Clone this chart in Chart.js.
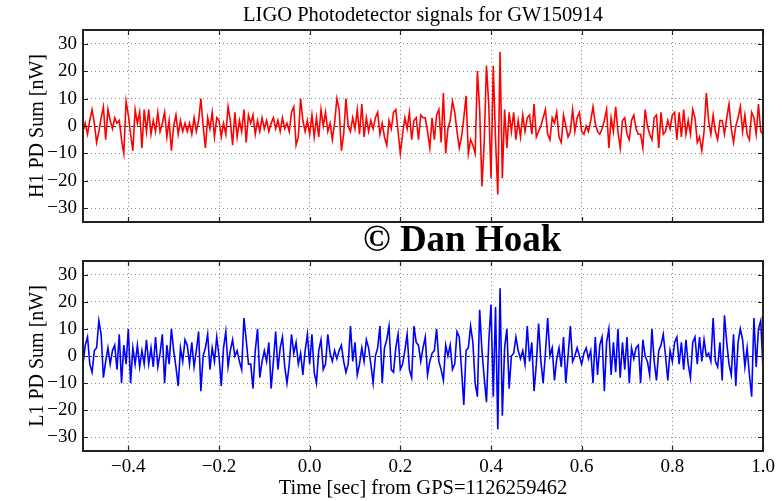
<!DOCTYPE html>
<html>
<head>
<meta charset="utf-8">
<script src="https://cdn.jsdelivr.net/npm/chart.js@4.4.0/dist/chart.umd.min.js"></script>
<style>
  html, body { margin: 0; padding: 0; background: #ffffff; }
  #wrap { position: relative; width: 782px; height: 501px; overflow: hidden; background: #fff; }
  canvas { position: absolute; left: 0; }
  #c1 { top: 0; }
  #c2 { top: 240px; }
  #title {
    position: absolute; left: 83px; width: 680px; top: 2px;
    text-align: center;
    font-family: 'Liberation Serif', 'DejaVu Serif', serif;
    font-size: 20.5px; line-height: 24px; color: #000; white-space: nowrap;
  }
  #credit {
    position: absolute; left: 363px; top: 220px;
    font-family: 'Liberation Serif', 'DejaVu Serif', serif;
    font-weight: bold; font-size: 37px; line-height: 37px;
    color: #000; white-space: nowrap;
  }
</style>
</head>
<body>
<div id="wrap">
  <canvas id="c1" width="782" height="240"></canvas>
  <canvas id="c2" width="782" height="261"></canvas>
  <div id="title"></div>
  <div id="credit">© Dan Hoak</div>
</div>
<script>
// ---- Data ----
const chartTitle = 'LIGO Photodetector signals for GW150914';
const xAxisTitle = 'Time [sec] from GPS=1126259462';
const h1Label = 'H1 PD Sum [nW]';
const l1Label = 'L1 PD Sum [nW]';

const xTickValues = [-0.4, -0.2, 0.0, 0.2, 0.4, 0.6, 0.8, 1.0];
const xTickLabels = ['\u22120.4', '\u22120.2', '0.0', '0.2', '0.4', '0.6', '0.8', '1.0'];
const yTickValues = [-30, -20, -10, 0, 10, 20, 30];
const yTickLabels = ['\u221230', '\u221220', '\u221210', '0', '10', '20', '30'];

// sample times: start and spacing of the recorded samples (seconds)
const tStart = -0.5;
const tStep = 0.005;

// H1 photodetector sum [nW]
const h1Values = [
  -2, 1, -3, 2, 6, 1, -6, -2, 3, 7,
  -5, 6, 2, -1, 3, 1, 2, -5, -10, 9,
  4, -3, -9, 6, 1, 5, -8, 6, -2, 6,
  -3, 2, -2, 5, -2, 1, 5, -4, 2, -9,
  0, 4, -3, 2, -2, 1, -2, 1, -3, 3,
  -2, 2, 10, 0, -8, 3, -1, 5, -4, 3,
  2, -4, 1, -3, 7, 2, -7, 5, -4, 2,
  -2, 6, -6, 4, 1, 4,
  -3, 2, -2, 3, -1, 2, -2, 1, 3, -1,
  2, -2, 3, -1, 1, -2, 5, 7, -7, -4,
  10, 2, -2, 2, -3, 4, -4, 3, -4, 6,
  0, 5, -2, 1, -5, 1, 10, 6, -9, -3,
  10, 0, -2, 3, -1, 6, -3, 8, -4, 3,
  -2, 2, -1, 3, 5, -3, 1, -4, -7, 2,
  -1, 5, 6, -2, -10, -3, 3, -1, 5, -5,
  2, 3, -5, 4, 3,
  3, -2, -8, 3, -5, 4, 6, -6, 12, -10,
  -1, 2, 9, 5, -2, -8, -4, 3, 11, -10,
  -5, -7, -10, 20, 6, -22, -6, 22, 8, -19,
  22, -5, -25, 27, -19, 6, -8, 5, -2, 5,
  -5, 2, -4, 4, -2, 3, 4, -3, 8, -4,
  -2, 0, 3, 6, -3, -5, 3, 1, 5, -4,
  -6, 4, 0, -4, -2, 6, -2, 3, 5, -2,
  -3, 0, -2, 2, 7,
  1, -2, -3, -1, 2, 6, -8, 3, -2, 7,
  -2, -8, 2, 3, -3, -5, 2, 4, -1, -3,
  -3, -8, 6, 0, -3, -5, 3, 4, -8, 5,
  -3, -2, 2, -1, 4, 5, -5, 5, -4, 6,
  -3, 2, -3, 6, 3, -6, -4, -9, -2, 12,
  2, -3, 4, -2, -5, 2, 2, -3, 3, 8,
  -1, -6, 0, 3, 7, -2, 4, -3, -5, 5,
  3, -3, 8, -2, -3
];

// L1 photodetector sum [nW]
const l1Values = [
  -3, 4, 7, -3, -6, 2, 3, 13, 8, -8,
  -2, 3, -3, 2, 4, -5, 8, -10, 4, -3,
  10, -10, 3, -3, 4, -4, 2, -3, 6, -3,
  3, -4, 7, -4, 1, 8, -10, 4, -3, 10,
  2, -4, -11, 3, -2, 6, 4, -3, 5, -4,
  2, 9, -13, 0, 3, 8, -5, 3, -2, 7,
  0, -11, 3, 9, -4, 2, 6, 0, 2, -2,
  -5, 14, 6, -3, -3, -12,
  2, 10, -8, -2, 2, -2, 5, -12, -2, 9,
  -5, 3, 7, -4, -10, -3, 8, 1, 5, -3,
  1, -7, 2, 8, -3, 8, -6, -10, 2, 6,
  -5, -3, 8, 1, -2, 2, -1, 2, 4, -2,
  -6, -3, 11, -2, 5, -7, -3, 3, -2, 6,
  3, -3, -10, 0, 3, 11, -10, 3, 6, 11,
  -5, -6, 3, 8, -5, -3, 2, 8, -5, -8,
  11, 5, 4, -2, 3,
  7, -7, -2, 1, 2, 10, -2, -5, -9, 4,
  0, 4, -5, -3, 9, 7, -5, -18, 2, 3,
  11, 5, -10, -15, 17, 2, -8, -17, 5, 19,
  -15, 18, -27, 25, -22, 3, 10, -12, 0, 1,
  7, 2, -1, 2, -3, 11, -2, 5, -13, -3,
  12, -2, -10, 1, 14, 0, 3, -9, -1, 3,
  -4, 7, -10, 0, 11, -2, 0, 3, 0, -3,
  1, 3, -1, 2, -10,
  7, -7, 4, 7, -13, 5, 10, -7, 5, -6,
  10, -8, 5, -5, 7, -10, 3, -1, 3, 4,
  -10, 6, 0, -2, -7, 10, -2, -9, 2, 4,
  8, 0, -9, 2, -2, 5, 7, -3, 5, -5,
  6, -3, -8, 5, 7, -3, 7, -2, 6, 0,
  1, -2, 14, -2, -4, 5, -9, 15, 5, -3,
  -7, 8, -11, 5, 10, 6, -4, 3, -7, -15,
  14, -4, 10, 13, -5
];

document.getElementById('title').textContent = chartTitle;

// ---- Chart setup ----
const SERIF = "'Liberation Serif', 'DejaVu Serif', 'Times New Roman', serif";
Chart.defaults.font.family = SERIF;
Chart.defaults.color = '#000';

function toPoints(values) {
  return values.map((v, i) => ({ x: tStart + i * tStep, y: v }));
}

function labelFor(values, labels, v) {
  for (let i = 0; i < values.length; i++) {
    if (Math.abs(values[i] - v) < 1e-6) return labels[i];
  }
  return '';
}

const framePlugin = {
  id: 'mplFrame',
  beforeDatasetsDraw(chart) {
    const { ctx, chartArea: a, scales: { y } } = chart;
    const y0 = Math.round(y.getPixelForValue(0)) + 0.5;
    ctx.save();
    ctx.strokeStyle = '#333';
    ctx.lineWidth = 1;
    ctx.setLineDash([3, 3]);
    ctx.beginPath();
    ctx.moveTo(a.left, y0);
    ctx.lineTo(a.right, y0);
    ctx.stroke();
    ctx.restore();
  },
  afterDatasetsDraw(chart) {
    const { ctx, chartArea: a, scales: { x, y } } = chart;
    ctx.save();
    ctx.setLineDash([]);
    ctx.strokeStyle = '#222';
    ctx.lineWidth = 1.2;
    ctx.beginPath();
    yTickValues.forEach(v => {
      const p = Math.round(y.getPixelForValue(v)) + 0.5;
      ctx.moveTo(a.left, p); ctx.lineTo(a.left + 5, p);
      ctx.moveTo(a.right, p); ctx.lineTo(a.right - 5, p);
    });
    xTickValues.forEach(v => {
      const p = Math.round(x.getPixelForValue(v)) + 0.5;
      ctx.moveTo(p, a.bottom); ctx.lineTo(p, a.bottom - 5);
      ctx.moveTo(p, a.top); ctx.lineTo(p, a.top + 5);
    });
    ctx.stroke();
    ctx.lineWidth = 2;
    ctx.strokeStyle = '#222';
    ctx.strokeRect(a.left, a.top, a.right - a.left, a.bottom - a.top);
    ctx.restore();
  }
};

function makeChart(canvasId, values, color, yTitle, isTop) {
  const gridOpts = { display: true, drawTicks: false, color: '#8a8a8a', lineWidth: 1 };
  return new Chart(document.getElementById(canvasId), {
    type: 'line',
    data: {
      datasets: [{
        data: toPoints(values),
        borderColor: color,
        borderWidth: 1.6,
        pointRadius: 0,
        tension: 0,
        fill: false
      }]
    },
    options: {
      responsive: false,
      animation: false,
      layout: { padding: isTop ? { left: 0, right: 19, top: 30, bottom: 18 } : { left: 0, right: 19, top: 21, bottom: 0 } },
      plugins: {
        legend: { display: false },
        tooltip: { enabled: false },
        title: { display: false }
      },
      scales: {
        x: {
          type: 'linear',
          min: -0.5,
          max: 1.0,
          afterBuildTicks: s => { s.ticks = xTickValues.map(v => ({ value: v })); },
          afterFit: s => { s.height = isTop ? 0 : 50; },
          grid: gridOpts,
          border: { display: false, dash: [1, 3] },
          ticks: {
            display: !isTop,
            font: { family: SERIF, size: 19 },
            color: '#000',
            padding: 5,
            maxRotation: 0,
            autoSkip: false,
            callback: v => labelFor(xTickValues, xTickLabels, v)
          },
          title: isTop ? { display: false } : {
            display: true,
            text: xAxisTitle,
            font: { family: SERIF, size: 20.5 },
            color: '#000',
            padding: { top: 0, bottom: 0 }
          }
        },
        y: {
          type: 'linear',
          min: -35,
          max: 35,
          afterBuildTicks: s => { s.ticks = yTickValues.map(v => ({ value: v })); },
          afterFit: s => { s.width = 83; },
          grid: gridOpts,
          border: { display: false, dash: [1, 3] },
          ticks: {
            font: { family: SERIF, size: 19 },
            color: '#000',
            padding: 6,
            autoSkip: false,
            callback: v => labelFor(yTickValues, yTickLabels, v)
          },
          title: {
            display: true,
            text: yTitle,
            font: { family: SERIF, size: 20 },
            color: '#000',
            padding: { top: 26, bottom: 0 }
          }
        }
      }
    },
    plugins: [framePlugin]
  });
}

makeChart('c1', h1Values, '#ff0000', h1Label, true);
makeChart('c2', l1Values, '#0000ff', l1Label, false);
</script>
</body>
</html>
